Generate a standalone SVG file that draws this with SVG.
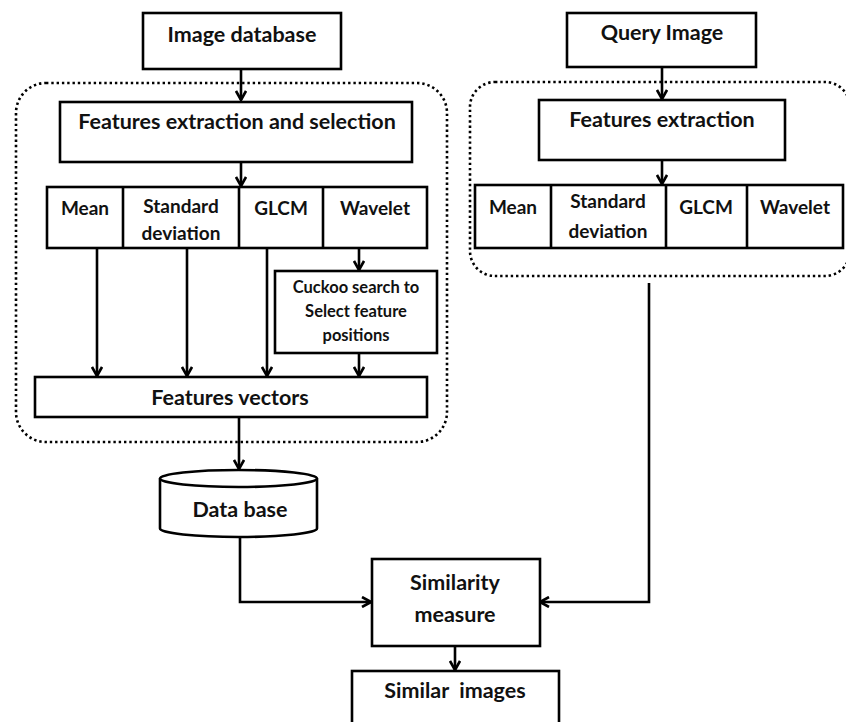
<svg xmlns="http://www.w3.org/2000/svg" width="846" height="722" viewBox="0 0 846 722">
<defs>
<marker id="arr" viewBox="0 0 12 12" refX="10.5" refY="6" markerWidth="12" markerHeight="12" markerUnits="userSpaceOnUse" orient="auto">
<path d="M1.5,1 L10.5,6 L1.5,11" fill="none" stroke="#000" stroke-width="2.6"/>
</marker>
</defs>
<style>
.box{fill:#fff;stroke:#000;stroke-width:2.6}
.grp{fill:none;stroke:#000;stroke-width:2.6;stroke-dasharray:2.4 2.9}
.ln{fill:none;stroke:#000;stroke-width:2.6}
.t{font-family:Lato,"Open Sans","Liberation Sans",sans-serif;font-weight:700;fill:#111;text-anchor:middle}
.l{font-size:21.5px}
.m{font-size:19px}
.s{font-size:16.5px}
.pre{white-space:pre}
</style>
<rect width="846" height="722" fill="#fff"/>
<g id="group-left"><rect class="grp" x="16" y="83" width="431" height="359" rx="30"/></g>
<g id="group-right"><rect class="grp" x="470" y="82" width="380" height="194" rx="25"/></g>

<g id="connectors">
<line class="ln" x1="241" y1="69" x2="241" y2="100" marker-end="url(#arr)"/>
<line class="ln" x1="241" y1="162" x2="241" y2="186" marker-end="url(#arr)"/>
<line class="ln" x1="97" y1="248" x2="97" y2="376" marker-end="url(#arr)"/>
<line class="ln" x1="187" y1="248" x2="187" y2="376" marker-end="url(#arr)"/>
<line class="ln" x1="267" y1="248" x2="267" y2="376" marker-end="url(#arr)"/>
<line class="ln" x1="359" y1="248" x2="359" y2="270" marker-end="url(#arr)"/>
<line class="ln" x1="359" y1="353" x2="359" y2="376" marker-end="url(#arr)"/>
<line class="ln" x1="239" y1="417" x2="239" y2="469" marker-end="url(#arr)"/>
<polyline class="ln" points="240,537 240,602 371,602" marker-end="url(#arr)"/>
<line class="ln" x1="662" y1="67" x2="662" y2="99" marker-end="url(#arr)"/>
<line class="ln" x1="662" y1="160" x2="662" y2="184" marker-end="url(#arr)"/>
<polyline class="ln" points="649,283 649,602 540,602" marker-end="url(#arr)"/>
<line class="ln" x1="455" y1="646" x2="455" y2="670" marker-end="url(#arr)"/>
</g>

<g id="image-database">
<rect class="box" x="143" y="13" width="198" height="56"/>
<text class="t l" x="242" y="42">Image database</text>
</g>
<g id="features-extraction-selection">
<rect class="box" x="60" y="102" width="352" height="60"/>
<text class="t l" x="237" y="129">Features extraction and selection</text>
</g>
<g id="left-features">
<rect class="box" x="47" y="187" width="380" height="61"/>
<line class="ln" x1="123" y1="187" x2="123" y2="248"/>
<line class="ln" x1="239" y1="187" x2="239" y2="248"/>
<line class="ln" x1="323" y1="187" x2="323" y2="248"/>
<text class="t m" x="85" y="215">Mean</text>
<text class="t m" x="181" y="213">Standard</text>
<text class="t m" x="181" y="240">deviation</text>
<text class="t m" x="281" y="215">GLCM</text>
<text class="t m" x="375" y="215">Wavelet</text>
</g>
<g id="cuckoo-search">
<rect class="box" x="275" y="271" width="162" height="82"/>
<text class="t s" x="356" y="293">Cuckoo search to</text>
<text class="t s" x="356" y="317">Select feature</text>
<text class="t s" x="356" y="341">positions</text>
</g>
<g id="features-vectors">
<rect class="box" x="35" y="377" width="392" height="40"/>
<text class="t l" x="230" y="405">Features vectors</text>
</g>
<g id="data-base">
<path class="box" d="M160,478.5 L160,528.5 A78.5,8.5 0 0 0 317,528.5 L317,478.5"/>
<ellipse class="box" cx="238.5" cy="478.5" rx="78.5" ry="8.5"/>
<text class="t l" x="240" y="517">Data base</text>
</g>
<g id="query-image">
<rect class="box" x="567" y="13" width="189" height="54"/>
<text class="t l" x="662" y="40">Query Image</text>
</g>
<g id="features-extraction">
<rect class="box" x="539" y="100" width="246" height="60"/>
<text class="t l" x="662" y="127">Features extraction</text>
</g>
<g id="right-features">
<rect class="box" x="475" y="185" width="368" height="63"/>
<line class="ln" x1="551" y1="185" x2="551" y2="248"/>
<line class="ln" x1="666" y1="185" x2="666" y2="248"/>
<line class="ln" x1="747" y1="185" x2="747" y2="248"/>
<text class="t m" x="513" y="214">Mean</text>
<text class="t m" x="608" y="208">Standard</text>
<text class="t m" x="608" y="238">deviation</text>
<text class="t m" x="706" y="214">GLCM</text>
<text class="t m" x="795" y="214">Wavelet</text>
</g>
<g id="similarity-measure">
<rect class="box" x="372" y="559" width="168" height="87"/>
<text class="t l" x="455" y="590">Similarity</text>
<text class="t l" x="455" y="622">measure</text>
</g>
<g id="similar-images">
<rect class="box" x="352" y="671" width="207" height="60"/>
<text class="t l pre" x="455" y="698">Similar  images</text>
</g>
</svg>
